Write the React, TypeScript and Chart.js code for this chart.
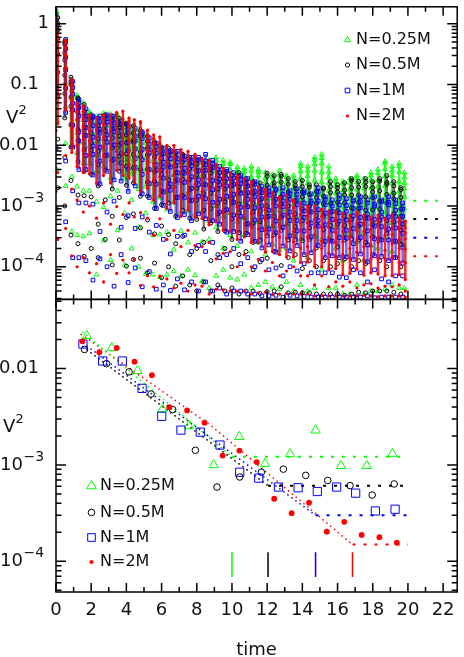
import React, { useEffect, useRef } from 'react';
import { Chart, registerables } from 'chart.js';
Chart.register(...registerables);

const FONT = '"DejaVu Sans", sans-serif';

// ---------- Top panel: one row per streak: [time, log10(V^2) at streak top, depths (decades) of further samples below that top ...] ----------
const topGreen: number[][] = [
  [0.05, 0.2, .06, .15, .3, .5, .8, 1.2, 1.8, 2.6], [0.55, -0.27, .05, .14, .27, .45, .7, 1.1, 1.7, 2.4],
  [0.9, -0.92, .08, .17, .3, .5, .75, 1.1, 1.6, 2.5], [1.2, -1.18, .04, .12, .25, .4, .62, .95, 1.5, 2.3],
  [1.55, -1.3, .07, .18, .29, .44, .66, 1.0, 1.45, 2.2], [1.9, -1.45, .03, .11, .22, .38, .57, .85, 1.3, 2.0],
  [2.3, -1.53, .09, .16, .27, .41, .63, .9, 1.4, 2.6], [2.7, -1.47, .05, .13, .26, .43, .6, .88, 1.55, 2.1],
  [3.1, -1.49, .06, .19, .31, .47, .7, 1.05, 1.35, 2.4], [3.5, -1.5, .04, .1, .23, .36, .55, .8, 1.25, 1.9],
  [3.9, -1.62, .08, .15, .28, .44, .61, .93, 1.5, 2.35], [4.3, -1.7, .03, .12, .2, .35, .52, .78, 1.2, 2.0],
  [4.7, -1.75, .07, .17, .3, .42, .65, .97, 1.6, 2.25], [5.1, -1.82, .05, .14, .24, .39, .58, .86, 1.3, 2.3],
  [5.5, -1.93, .09, .2, .33, .48, .71, 1.0, 1.55, 2.2], [5.9, -2.02, .04, .11, .25, .4, .6, .84, 1.45, 2.15],
  [6.3, -2.08, .06, .16, .27, .45, .68, .98, 1.35, 2.05], [6.7, -2.12, .03, .13, .22, .37, .56, .82, 1.6, 1.95],
  [7.1, -2.16, .08, .18, .32, .46, .66, .95, 1.25, 2.0], [7.5, -2.2, .05, .12, .24, .38, .59, .88, 1.4, 1.85],
  [7.9, -2.24, .07, .15, .29, .43, .62, .9, 1.2, 1.9], [8.3, -2.24, .04, .14, .26, .4, .57, .85, 1.35, 2.0],
  [8.7, -2.25, .09, .19, .3, .47, .69, 1.0, 1.3, 2.1], [9.1, -2.2, .05, .11, .23, .36, .54, .8, 1.15, 1.95],
  [9.5, -2.25, .06, .17, .28, .44, .64, .93, 1.45, 1.8], [9.9, -2.28, .03, .13, .25, .39, .58, .84, 1.2, 1.9],
  [10.3, -2.36, .08, .16, .3, .45, .63, .9, 1.3, 1.85], [10.7, -2.38, .05, .12, .22, .37, .55, .82, 1.1, 1.75],
  [11.1, -2.35, .07, .18, .31, .46, .67, .96, 1.4, 2.0], [11.5, -2.4, .04, .1, .24, .38, .57, .86, 1.2, 1.9],
  [11.9, -2.45, .09, .15, .27, .42, .61, .88, 1.35, 1.8], [12.3, -2.48, .05, .14, .26, .4, .6, .85, 1.15, 1.85],
  [12.7, -2.42, .06, .17, .29, .44, .65, .92, 1.3, 1.95], [13.1, -2.5, .03, .12, .23, .37, .56, .8, 1.2, 1.75],
  [13.5, -2.5, .08, .19, .32, .47, .68, .97, 1.4, 1.9], [13.9, -2.3, .05, .13, .25, .41, .6, .87, 1.25, 2.0],
  [14.3, -2.35, .07, .16, .28, .43, .62, .9, 1.5, 2.05], [14.7, -2.2, .04, .11, .22, .38, .58, .86, 1.3, 2.15],
  [15.1, -2.15, .06, .15, .3, .46, .66, .95, 1.4, 1.9], [15.5, -2.35, .09, .18, .27, .4, .59, .84, 1.2, 2.0],
  [15.9, -2.55, .05, .12, .24, .37, .55, .8, 1.15, 1.8], [16.3, -2.6, .03, .14, .26, .41, .6, .88, 1.3, 1.85],
  [16.7, -2.55, .07, .17, .29, .45, .64, .91, 1.25, 1.9], [17.1, -2.5, .04, .11, .23, .36, .56, .82, 1.1, 1.8],
  [17.5, -2.55, .08, .16, .31, .44, .63, .9, 1.35, 1.9], [17.9, -2.45, .05, .13, .25, .39, .58, .85, 1.2, 1.95],
  [18.3, -2.4, .06, .18, .28, .42, .62, .89, 1.3, 2.0], [18.7, -2.27, .03, .12, .24, .4, .6, .87, 1.25, 2.1],
  [19.1, -2.35, .07, .15, .27, .43, .65, .93, 1.4, 1.95], [19.5, -2.3, .05, .14, .3, .46, .67, .96, 1.3, 2.05],
  [19.8, -2.45, .08, .17, .26, .4, .59, .85, 1.2, 1.9],
];
const topBlack: number[][] = [
  [0.1, 0.1, .1, .2, .35, .6, .9, 1.3, 2.0, 2.8], [0.5, -0.3, .04, .18, .3, .55, .85, 1.25, 1.9, 2.7],
  [0.85, -0.88, .07, .12, .33, .48, .78, 1.15, 1.7, 2.6], [1.25, -1.22, .02, .16, .24, .52, .7, 1.05, 1.6, 2.4],
  [1.6, -1.33, .11, .2, .37, .5, .74, 1.1, 1.5, 2.5], [2.0, -1.5, .05, .09, .3, .46, .58, .98, 1.35, 2.2],
  [2.4, -1.55, .13, .22, .34, .55, .77, 1.12, 1.75, 2.3], [2.8, -1.5, .03, .17, .26, .39, .67, .91, 1.4, 2.05],
  [3.2, -1.52, .08, .21, .36, .52, .73, 1.2, 1.65, 2.45], [3.6, -1.56, .1, .14, .29, .44, .62, .87, 1.3, 2.0],
  [4.0, -1.64, .02, .19, .32, .5, .71, 1.02, 1.55, 2.35], [4.4, -1.68, .12, .23, .27, .47, .69, .94, 1.45, 2.2],
  [4.8, -1.76, .06, .1, .35, .43, .64, 1.08, 1.6, 2.1], [5.2, -1.85, .09, .2, .31, .55, .76, .99, 1.38, 2.25],
  [5.6, -1.94, .03, .15, .25, .49, .66, 1.1, 1.52, 2.0], [6.0, -2.03, .11, .18, .38, .45, .72, .95, 1.3, 2.15],
  [6.4, -2.05, .05, .13, .28, .52, .63, .9, 1.42, 1.95], [6.8, -2.12, .08, .22, .33, .47, .74, 1.05, 1.5, 2.2],
  [7.2, -2.15, .02, .12, .3, .41, .68, .92, 1.35, 2.0], [7.6, -2.2, .1, .19, .36, .53, .7, 1.0, 1.6, 2.1],
  [8.0, -2.25, .06, .16, .24, .46, .65, .97, 1.45, 2.15], [8.4, -2.3, .12, .21, .34, .5, .77, 1.08, 1.3, 1.95],
  [8.8, -2.35, .04, .11, .29, .44, .69, .93, 1.55, 2.05], [9.2, -2.4, .09, .2, .32, .55, .73, 1.02, 1.4, 1.9],
  [9.6, -2.45, .03, .14, .27, .48, .62, .96, 1.25, 1.95], [10.0, -2.5, .11, .17, .37, .45, .71, 1.05, 1.5, 1.85],
  [10.4, -2.45, .06, .23, .31, .52, .66, .99, 1.35, 2.0], [10.8, -2.55, .08, .13, .26, .43, .75, .9, 1.2, 1.85],
  [11.2, -2.6, .02, .18, .35, .5, .68, 1.0, 1.45, 1.8], [11.6, -2.62, .1, .15, .28, .46, .64, .94, 1.3, 1.82],
  [12.0, -2.46, .05, .2, .33, .54, .72, 1.03, 1.4, 1.95], [12.4, -2.5, .12, .17, .3, .42, .67, .97, 1.25, 1.9],
  [12.8, -2.48, .03, .13, .37, .49, .7, .92, 1.5, 1.85], [13.2, -2.55, .09, .22, .29, .45, .63, 1.01, 1.3, 1.88],
  [13.6, -2.6, .06, .11, .32, .53, .74, .95, 1.2, 1.82], [14.0, -2.58, .1, .19, .27, .47, .66, .99, 1.45, 1.85],
  [14.4, -2.65, .04, .16, .35, .44, .71, .9, 1.25, 1.78], [14.8, -2.65, .11, .21, .3, .51, .65, 1.04, 1.35, 1.8],
  [15.2, -2.7, .02, .14, .26, .46, .69, .93, 1.2, 1.75], [15.6, -2.6, .08, .18, .36, .5, .72, .97, 1.4, 1.85],
  [16.0, -2.65, .05, .12, .29, .43, .64, 1.02, 1.3, 1.8], [16.4, -2.62, .12, .2, .33, .55, .7, .94, 1.25, 1.85],
  [16.8, -2.55, .03, .15, .27, .48, .67, .99, 1.45, 1.9], [17.2, -2.6, .09, .22, .34, .44, .73, .96, 1.3, 1.82],
  [17.6, -2.55, .06, .13, .3, .52, .65, 1.05, 1.4, 1.88], [18.0, -2.6, .1, .17, .26, .46, .71, .91, 1.2, 1.8],
  [18.4, -2.55, .04, .2, .37, .5, .68, 1.0, 1.35, 1.85], [18.8, -2.5, .11, .14, .31, .45, .74, .95, 1.5, 1.9],
  [19.2, -2.6, .07, .19, .28, .53, .66, .98, 1.25, 1.82], [19.6, -2.7, .03, .16, .35, .47, .7, .93, 1.3, 1.75],
];
const topBlue: number[][] = [
  [0.0, 0.15, .08, .19, .33, .55, .85, 1.3, 2.2, 3.2], [0.55, -0.26, .03, .15, .29, .5, .8, 1.2, 2.0, 3.0],
  [0.95, -0.95, .1, .21, .36, .47, .72, 1.08, 1.8, 2.9], [1.3, -1.25, .05, .13, .27, .53, .68, 1.15, 1.7, 2.6],
  [1.7, -1.4, .12, .18, .31, .44, .77, 1.0, 1.55, 2.5], [2.1, -1.52, .02, .16, .35, .49, .63, .97, 1.45, 2.7],
  [2.5, -1.52, .09, .22, .28, .51, .74, 1.12, 1.9, 2.35], [2.9, -1.5, .06, .12, .33, .45, .66, .93, 1.6, 2.5],
  [3.3, -1.52, .11, .2, .26, .48, .71, 1.05, 1.4, 2.8], [3.7, -1.6, .04, .17, .37, .54, .69, .99, 1.75, 2.2],
  [4.1, -1.66, .08, .14, .3, .43, .73, 1.1, 1.5, 2.6], [4.5, -1.72, .13, .21, .34, .5, .64, .95, 1.65, 2.3],
  [4.9, -1.78, .03, .11, .29, .46, .7, 1.02, 1.4, 2.55], [5.3, -1.88, .1, .19, .25, .52, .75, .98, 1.55, 2.2],
  [5.7, -1.97, .05, .16, .36, .44, .67, 1.07, 1.35, 2.4], [6.1, -2.05, .09, .23, .31, .49, .72, .94, 1.5, 2.25],
  [6.5, -2.09, .02, .13, .27, .55, .65, 1.0, 1.7, 2.3], [6.9, -2.1, .12, .18, .35, .47, .76, 1.09, 1.4, 2.1],
  [7.3, -2.18, .06, .2, .28, .43, .68, .96, 1.3, 2.2], [7.7, -2.2, .08, .14, .32, .51, .71, 1.04, 1.55, 2.05],
  [8.1, -2.2, .04, .22, .37, .45, .64, .93, 1.45, 2.2], [8.5, -2.15, .11, .17, .26, .5, .73, 1.06, 1.6, 2.1],
  [8.9, -2.25, .05, .12, .33, .48, .69, .99, 1.35, 2.15], [9.3, -2.35, .1, .21, .3, .54, .75, .95, 1.5, 2.0],
  [9.7, -2.4, .03, .15, .27, .44, .66, 1.03, 1.4, 2.05], [10.1, -2.45, .09, .19, .36, .49, .7, .97, 1.25, 1.95],
  [10.5, -2.5, .07, .13, .29, .52, .67, 1.08, 1.45, 1.9], [10.9, -2.55, .12, .23, .34, .46, .74, .92, 1.3, 1.9],
  [11.3, -2.6, .04, .16, .25, .43, .63, .98, 1.4, 1.85], [11.7, -2.68, .1, .2, .32, .5, .71, 1.01, 1.2, 1.8],
  [12.1, -2.7, .06, .12, .37, .47, .68, .94, 1.35, 1.78], [12.5, -2.72, .02, .17, .28, .53, .72, 1.04, 1.3, 1.75],
  [12.9, -2.7, .11, .22, .31, .45, .65, .96, 1.45, 1.8], [13.3, -2.75, .05, .14, .35, .49, .74, .99, 1.25, 1.72],
  [13.7, -2.72, .09, .18, .26, .52, .69, .93, 1.35, 1.76], [14.1, -2.75, .03, .2, .33, .44, .66, 1.05, 1.2, 1.74],
  [14.5, -2.8, .12, .15, .3, .48, .71, .97, 1.3, 1.7], [14.9, -2.7, .07, .22, .36, .54, .63, .95, 1.4, 1.8],
  [15.3, -2.85, .04, .13, .27, .46, .73, 1.0, 1.25, 1.65], [15.7, -2.9, .1, .19, .32, .5, .68, .92, 1.2, 1.6],
  [16.1, -2.82, .06, .16, .29, .43, .7, 1.03, 1.35, 1.68], [16.5, -2.88, .11, .21, .35, .52, .65, .96, 1.3, 1.62],
  [16.9, -2.9, .02, .14, .26, .47, .72, .98, 1.15, 1.6], [17.3, -2.85, .08, .18, .34, .45, .67, .94, 1.25, 1.65],
  [17.7, -2.9, .05, .23, .3, .51, .74, 1.02, 1.35, 1.58], [18.1, -2.85, .12, .15, .37, .48, .69, .97, 1.2, 1.66],
  [18.5, -2.9, .03, .2, .28, .44, .66, .93, 1.3, 1.6], [18.9, -2.85, .09, .13, .33, .53, .71, 1.05, 1.4, 1.65],
  [19.3, -2.9, .06, .17, .27, .46, .68, .95, 1.25, 1.6], [19.7, -2.95, .1, .22, .35, .5, .73, .99, 1.2, 1.55],
];
const topRed: number[][] = [
  [0.0, 0.24, .05, .14, .3, .5, .8, 1.25, 2.0, 3.0], [0.1, -0.15, .08, .2, .38, .65, 1.0, 1.5, 2.3, 3.4],
  [0.55, -0.27, .03, .12, .25, .45, .75, 1.15, 1.9, 3.1], [0.9, -0.92, .1, .18, .33, .52, .8, 1.2, 1.8, 2.9],
  [1.2, -1.3, .04, .15, .28, .47, .7, 1.05, 1.6, 2.7], [1.55, -1.35, .09, .21, .35, .55, .74, 1.1, 1.75, 2.5],
  [1.9, -1.5, .02, .13, .26, .43, .66, .97, 1.5, 2.6], [2.3, -1.55, .11, .19, .31, .49, .72, 1.08, 1.65, 2.4],
  [2.7, -1.5, .06, .16, .37, .53, .68, 1.0, 1.45, 2.75], [3.1, -1.5, .09, .12, .27, .46, .75, 1.12, 1.8, 2.3],
  [3.45, -1.46, .03, .2, .33, .5, .64, .95, 1.55, 2.65], [3.8, -1.44, .12, .17, .29, .44, .71, 1.06, 1.7, 2.45],
  [4.15, -1.55, .05, .14, .36, .54, .77, .99, 1.4, 2.55], [4.45, -1.58, .08, .22, .3, .48, .67, 1.03, 1.6, 2.3],
  [4.8, -1.61, .02, .11, .25, .45, .73, 1.15, 1.5, 2.7], [5.2, -1.75, .1, .18, .34, .52, .69, .96, 1.45, 2.4],
  [5.55, -1.83, .06, .15, .28, .47, .74, 1.07, 1.65, 2.5], [5.9, -1.86, .11, .21, .36, .55, .66, .98, 1.35, 2.3],
  [6.3, -2.0, .03, .13, .27, .44, .72, 1.04, 1.55, 2.2], [6.7, -2.0, .09, .19, .32, .5, .7, .95, 1.4, 2.35],
  [7.1, -2.07, .05, .16, .29, .53, .75, 1.1, 1.6, 2.2], [7.5, -2.1, .12, .22, .35, .46, .68, .97, 1.3, 2.3],
  [7.9, -2.15, .04, .12, .26, .49, .73, 1.03, 1.5, 2.15], [8.3, -2.22, .08, .18, .33, .54, .66, .99, 1.45, 2.1],
  [8.7, -2.25, .1, .14, .3, .45, .71, 1.06, 1.35, 2.2], [9.1, -2.32, .03, .2, .37, .51, .69, .94, 1.55, 2.05],
  [9.5, -2.38, .07, .15, .28, .48, .74, 1.02, 1.4, 2.0], [9.9, -2.45, .11, .21, .32, .44, .67, .97, 1.3, 1.95],
  [10.3, -2.5, .05, .13, .26, .52, .72, 1.05, 1.5, 1.9], [10.7, -2.55, .09, .19, .35, .47, .65, .96, 1.25, 1.85],
  [11.1, -2.6, .02, .16, .3, .53, .75, 1.0, 1.4, 1.85], [11.5, -2.68, .12, .22, .27, .45, .7, .93, 1.2, 1.75],
  [11.9, -2.72, .06, .12, .34, .5, .68, 1.04, 1.35, 1.7], [12.3, -2.78, .08, .18, .29, .54, .73, .97, 1.15, 1.68],
  [12.7, -2.85, .04, .15, .36, .46, .66, .95, 1.3, 1.6], [13.1, -2.82, .11, .2, .31, .49, .71, 1.02, 1.25, 1.62],
  [13.5, -2.9, .03, .13, .26, .52, .69, .94, 1.1, 1.55], [13.9, -2.95, .09, .19, .33, .45, .74, .98, 1.2, 1.5],
  [14.3, -3.0, .06, .16, .28, .51, .67, .92, 1.15, 1.45], [14.7, -3.0, .1, .22, .35, .47, .72, 1.0, 1.3, 1.48],
  [15.1, -3.05, .02, .12, .3, .53, .65, .95, 1.1, 1.42], [15.5, -3.08, .07, .18, .27, .44, .7, .97, 1.25, 1.4],
  [15.9, -3.1, .11, .15, .34, .5, .73, .93, 1.15, 1.38], [16.3, -3.12, .05, .21, .29, .47, .68, 1.01, 1.2, 1.36],
  [16.7, -3.15, .09, .13, .36, .55, .71, .96, 1.1, 1.33], [17.1, -3.1, .03, .19, .31, .46, .66, .94, 1.25, 1.38],
  [17.5, -3.15, .12, .16, .27, .52, .74, .99, 1.15, 1.32], [17.9, -3.18, .06, .2, .33, .48, .69, .92, 1.1, 1.3],
  [18.3, -3.15, .08, .14, .37, .45, .72, .97, 1.2, 1.34], [18.7, -3.2, .04, .18, .28, .53, .67, .95, 1.12, 1.28],
  [19.1, -3.15, .1, .22, .32, .47, .7, 1.0, 1.18, 1.33], [19.5, -3.2, .05, .15, .35, .5, .73, .93, 1.1, 1.28],
  [19.85, -3.25, .11, .19, .29, .46, .68, .96, 1.15, 1.25],
];

// ---------- Bottom panel ----------
const greenT = [1.75, 3.17, 4.63, 6.05, 7.55, 8.96, 10.42, 11.88, 13.3, 14.75, 16.2, 17.66, 19.12];
const greenV = [0.0219, 0.0164, 0.0095, 0.0038, 0.00254, 0.001, 0.00196, 0.00103, 0.0013, 0.00229, 0.00098, 0.00098, 0.00131];
const blackT = [1.62, 2.87, 4.15, 5.4, 6.63, 7.92, 9.15, 10.44, 11.67, 12.92, 14.19, 15.44, 16.71, 17.97, 19.22];
const blackV = [0.0158, 0.01125, 0.00925, 0.00545, 0.00376, 0.00142, 0.00059, 0.00075, 0.00084, 0.000905, 0.00078, 0.00069, 0.00061, 0.000487, 0.000635];
const blueT = [1.53, 2.65, 3.77, 4.89, 6.01, 7.1, 8.2, 9.32, 10.44, 11.52, 12.64, 13.76, 14.85, 15.95, 17.03, 18.15, 19.27];
const blueV = [0.018, 0.012, 0.012, 0.00624, 0.0032, 0.0023, 0.00219, 0.00161, 0.00084, 0.00073, 0.00059, 0.00058, 0.00053, 0.00059, 0.00051, 0.000333, 0.000347];
const redT = [1.5, 2.46, 3.45, 4.46, 5.45, 6.44, 7.45, 8.44, 9.47, 10.42, 11.41, 12.4, 13.39, 14.38, 15.39, 16.38, 17.37, 18.38, 19.37];
const redV = [0.0192, 0.0148, 0.0164, 0.0118, 0.00853, 0.00398, 0.00368, 0.00275, 0.00125, 0.00141, 0.00107, 0.000446, 0.000316, 0.000406, 0.000203, 0.000257, 0.000188, 0.000178, 0.000156];

// decay fits (dotted) and plateau levels
const fitGreenT = [1.5, 10]; const fitGreenV = [0.024, 0.00122];
const fitBlackT = [1.5, 12.05]; const fitBlackV = [0.017, 0.00061];
const fitBlueT = [1.5, 14.75]; const fitBlueV = [0.0186, 0.0003];
const fitRedT = [1.4, 8.8, 16.85]; const fitRedV = [0.0229, 0.00257, 0.000149];
const plateauLevels = [0.00122, 0.00061, 0.0003, 0.000149];
const plateauStart = [10, 12.05, 14.75, 16.85];
const plateauEnd = 20;
const tailT = [20.3, 21.7];
const markerTimes = [10, 12.05, 14.75, 16.85];
const markerRange = [6.85e-5, 1.24e-4];

const seriesNames = ['N=0.25M', 'N=0.5M', 'N=1M', 'N=2M'];
const seriesColors = ['#00ff00', '#000000', '#0000ff', '#ff0000'];
const streakColors = ['rgba(0,255,0,0.75)', 'rgba(0,0,0,0.5)', 'rgba(0,0,255,0.6)', 'rgba(255,0,0,0.85)'];
const xTickValues = [0, 2, 4, 6, 8, 10, 12, 14, 16, 18, 20, 22];
const topTickLabels: [number, string][] = [[1, '1'], [0.1, '0.1'], [0.01, '0.01'], [1e-3, '10^−3'], [1e-4, '10^−4']];
const botTickLabels: [number, string][] = [[0.01, '0.01'], [1e-3, '10^−3'], [1e-4, '10^−4']];

const topStyles = [
  { style: 'triangle', r: 2.8, filled: false },
  { style: 'circle', r: 2.0, filled: false },
  { style: 'rect', r: 2.6, filled: false },
  { style: 'circle', r: 1.6, filled: true },
];
const botStyles = [
  { style: 'triangle', r: 5.4, filled: false },
  { style: 'circle', r: 3.3, filled: false },
  { style: 'rect', r: 5.8, filled: false },
  { style: 'circle', r: 2.9, filled: true },
];

function colsToPoints(cols: number[][]) {
  const pts: { x: number; y: number }[] = [];
  for (const c of cols) {
    pts.push({ x: c[0], y: Math.pow(10, c[1]) });
    for (let i = 2; i < c.length; i++) pts.push({ x: c[0], y: Math.pow(10, c[1] - c[i]) });
  }
  return pts;
}
// dense core of each streak: from its top down to its sixth sample
function colsToStreaks(cols: number[][]) {
  return cols.map((c) => ({ x: c[0], y: [Math.pow(10, c[1] - c[7]), Math.pow(10, c[1])] }));
}
function zip(t: number[], v: number[]) {
  return t.map((x, i) => ({ x, y: v[i] }));
}

function markerDs(data: any[], i: number, yAxisID: string, sty: any, order: number) {
  const c = seriesColors[i];
  return {
    type: 'scatter', data, xAxisID: 'x', yAxisID, showLine: false, order,
    pointStyle: sty.style, pointRadius: sty.r, pointHoverRadius: sty.r,
    pointBorderWidth: sty.filled ? 0 : 1, pointBorderColor: c,
    pointBackgroundColor: sty.filled ? c : 'rgba(0,0,0,0)',
  };
}
function streakDs(data: any[], i: number, order: number) {
  return {
    type: 'bar', data, xAxisID: 'x', yAxisID: 'yTop', order,
    backgroundColor: streakColors[i], borderWidth: 0, barThickness: 1.8, grouped: false,
  };
}
function lineDs(data: any[], i: number, yAxisID: string, dash: number[], width: number, order: number) {
  return {
    type: 'scatter', data, xAxisID: 'x', yAxisID, showLine: true, order, pointRadius: 0, pointHoverRadius: 0,
    borderColor: seriesColors[i], borderWidth: width, borderDash: dash, fill: false, tension: 0,
  };
}

function drawMarker(ctx: CanvasRenderingContext2D, style: string, x: number, y: number, r: number, color: string, filled: boolean) {
  ctx.beginPath();
  if (style === 'triangle') {
    ctx.moveTo(x, y - r); ctx.lineTo(x + r * 0.866, y + r * 0.5); ctx.lineTo(x - r * 0.866, y + r * 0.5); ctx.closePath();
  } else if (style === 'rect') {
    const s = r * Math.SQRT1_2; ctx.rect(x - s, y - s, 2 * s, 2 * s);
  } else {
    ctx.arc(x, y, r, 0, Math.PI * 2);
  }
  if (filled) { ctx.fillStyle = color; ctx.fill(); } else { ctx.strokeStyle = color; ctx.lineWidth = 1; ctx.stroke(); }
}

function drawTickLabel(ctx: CanvasRenderingContext2D, text: string, y: number) {
  ctx.textBaseline = 'middle';
  if (text.includes('^')) {
    const [base, sup] = text.split('^');
    ctx.textAlign = 'left';
    ctx.font = '18px ' + FONT;
    ctx.fillText(base, 0, y);
    ctx.font = '14px ' + FONT;
    ctx.fillText(sup, 23.5, y - 7.5);
  } else {
    ctx.textAlign = 'right';
    ctx.font = '18px ' + FONT;
    ctx.fillText(text, text.includes('.') ? 39 : 49, y);
  }
}

const framePlugin = {
  id: 'frame',
  afterDraw(chart: any) {
    const { ctx, chartArea } = chart;
    const xs = chart.scales.x;
    const L = chartArea.left, R = chartArea.right;
    const panels = [chart.scales.yTop, chart.scales.yBot];
    ctx.save();
    ctx.strokeStyle = '#000';
    ctx.lineWidth = 1.5;
    for (const ys of panels) {
      const T = ys.top, B = ys.bottom;
      ctx.strokeRect(L, T, R - L, B - T);
      ctx.beginPath();
      for (let v = 0; v <= 22; v++) {
        const px = xs.getPixelForValue(v);
        const len = v % 2 === 0 ? 9 : 5;
        ctx.moveTo(px, B); ctx.lineTo(px, B - len);
        ctx.moveTo(px, T); ctx.lineTo(px, T + len);
      }
      const lmin = Math.log10(ys.min), lmax = Math.log10(ys.max);
      for (let d = Math.floor(lmin); d <= Math.ceil(lmax); d++) {
        for (let m = 1; m <= 9; m++) {
          const v = m * Math.pow(10, d);
          if (v < ys.min || v > ys.max) continue;
          const py = ys.getPixelForValue(v);
          const len = m === 1 ? 10 : 5.5;
          ctx.moveTo(L, py); ctx.lineTo(L + len, py);
          ctx.moveTo(R, py); ctx.lineTo(R - len, py);
        }
      }
      ctx.stroke();
    }
    ctx.fillStyle = '#111';
    for (const [v, t] of topTickLabels) drawTickLabel(ctx, t, chart.scales.yTop.getPixelForValue(v));
    for (const [v, t] of botTickLabels) drawTickLabel(ctx, t, chart.scales.yBot.getPixelForValue(v));
    ctx.font = '18px ' + FONT;
    ctx.textAlign = 'center';
    ctx.textBaseline = 'middle';
    for (const v of xTickValues) ctx.fillText(String(v), xs.getPixelForValue(v), 610);
    ctx.fillText('time', (L + R) / 2, 650);
    const vTitle = (x: number, y: number) => {
      ctx.textAlign = 'left';
      ctx.font = '18px ' + FONT;
      ctx.fillText('V', x, y);
      ctx.font = '13px ' + FONT;
      ctx.fillText('2', x + 12.5, y - 7.5);
    };
    vTitle(6, 118);
    vTitle(3, 427);
    const legend = (mx: number, tx: number, ys: number[], styles: any[]) => {
      for (let i = 0; i < 4; i++) {
        drawMarker(ctx, styles[i].style, mx, ys[i], styles[i].r, seriesColors[i], styles[i].filled);
        ctx.fillStyle = '#111';
        ctx.font = '16px ' + FONT;
        ctx.textAlign = 'left';
        ctx.textBaseline = 'middle';
        ctx.fillText(seriesNames[i], tx, ys[i]);
      }
    };
    legend(347.5, 356, [40, 65, 90.5, 116], [
      { style: 'triangle', r: 3.4, filled: false }, { style: 'circle', r: 2.1, filled: false },
      { style: 'rect', r: 3.3, filled: false }, { style: 'circle', r: 1.6, filled: true }]);
    legend(91.5, 100, [486, 512.5, 537.5, 562], [
      { style: 'triangle', r: 5.6, filled: false }, { style: 'circle', r: 3.3, filled: false },
      { style: 'rect', r: 5.4, filled: false }, { style: 'circle', r: 2.1, filled: true }]);
    ctx.restore();
  },
};

export default function App() {
  const ref = useRef<HTMLCanvasElement | null>(null);
  useEffect(() => {
    document.body.style.margin = '0';
    const canvas = ref.current;
    if (!canvas) return;
    const tops = [topGreen, topBlack, topBlue, topRed];
    const bots = [zip(greenT, greenV), zip(blackT, blackV), zip(blueT, blueV), zip(redT, redV)];
    const fits = [zip(fitGreenT, fitGreenV), zip(fitBlackT, fitBlackV), zip(fitBlueT, fitBlueV), zip(fitRedT, fitRedV)];
    const datasets: any[] = [];
    for (let i = 0; i < 4; i++) {
      const rank = 3 - i; // red drawn on top
      datasets.push(markerDs(colsToPoints(tops[i]), i, 'yTop', topStyles[i], 1 + rank * 2));
      datasets.push(streakDs(colsToStreaks(tops[i]), i, 2 + rank * 2));
      datasets.push(markerDs(bots[i], i, 'yBot', botStyles[i], 1 + rank * 2));
      datasets.push(lineDs(fits[i], i, 'yBot', [1.5, 3.5], 1.5, 20 + i));
      datasets.push(lineDs([{ x: plateauStart[i], y: plateauLevels[i] }, { x: plateauEnd, y: plateauLevels[i] }], i, 'yBot', [3, 8], 2, 20 + i));
      datasets.push(lineDs([{ x: tailT[0], y: plateauLevels[i] }, { x: tailT[1], y: plateauLevels[i] }], i, 'yTop', [3, 8], 2, 20 + i));
      datasets.push(lineDs([{ x: markerTimes[i], y: markerRange[0] }, { x: markerTimes[i], y: markerRange[1] }], i, 'yBot', [], 1.5, 20 + i));
    }
    const hidden = { display: false };
    const chart = new Chart(canvas, {
      type: 'scatter',
      data: { datasets },
      options: {
        animation: false,
        responsive: false,
        devicePixelRatio: 1,
        events: [],
        layout: { padding: { left: 0, right: 1, top: 1, bottom: 0 } },
        plugins: { legend: { display: false }, tooltip: { enabled: false } },
        scales: {
          x: {
            type: 'linear', min: 0, max: 22.8, position: 'bottom', offset: false,
            ticks: hidden, grid: { display: false, offset: false }, border: hidden,
            afterFit: (s: any) => { s.height = 65; },
          },
          yBot: {
            type: 'logarithmic', min: 4.8e-5, max: 0.0523, position: 'left', stack: 'v', stackWeight: 1, weight: 1,
            beginAtZero: false, ticks: hidden, grid: hidden, border: hidden,
            afterFit: (s: any) => { s.width = 56; },
          },
          yTop: {
            type: 'logarithmic', min: 2.9e-5, max: 1.9, position: 'left', stack: 'v', stackWeight: 1, weight: 2,
            beginAtZero: false, ticks: hidden, grid: hidden, border: hidden,
            afterFit: (s: any) => { s.width = 56; },
          },
        } as any,
      },
      plugins: [framePlugin],
    } as any);
    return () => chart.destroy();
  }, []);
  return <canvas ref={ref} width={464} height={657} style={{ display: 'block', width: 464, height: 657 }} />;
}
